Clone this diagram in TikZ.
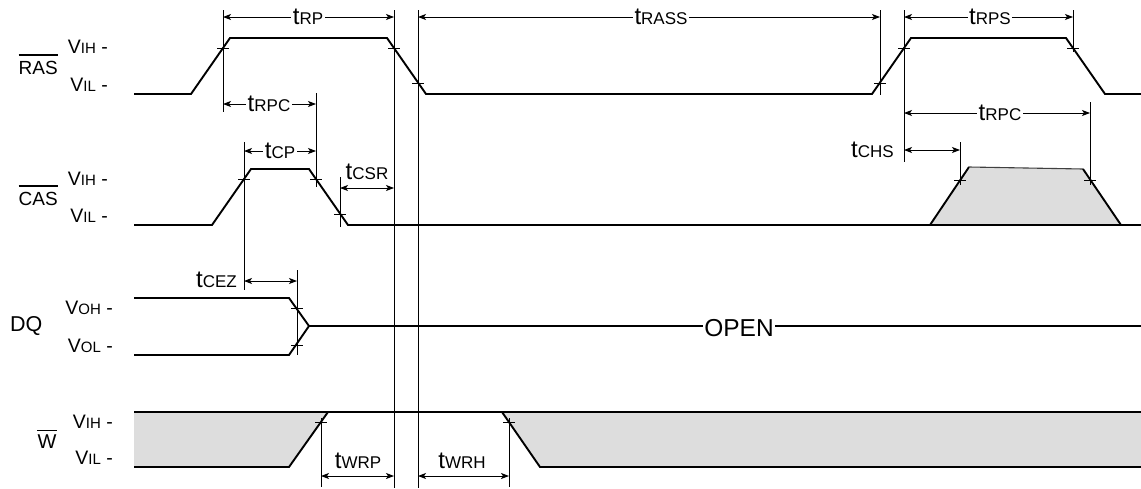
\documentclass[tikz,border=0pt]{standalone}
\usepackage{fontspec}
\setmainfont{Liberation Sans}
\usetikzlibrary{arrows.meta}
\definecolor{wgray}{HTML}{DDDDDD}
\newcommand{\tsub}[1]{{\fontsize{24}{24}\selectfont t}{\fontsize{17}{17}\selectfont #1}}
\newcommand{\vsub}[1]{{\fontsize{19.5}{19.5}\selectfont V}{\fontsize{15}{15}\selectfont #1}{\fontsize{19.5}{19.5}\selectfont\ -}}
\newcommand{\siglab}[1]{{\fontsize{19}{19}\selectfont #1}}
\tikzset{
  sig/.style={line width=1.9pt},
  guide/.style={line width=0.8pt},
  dim/.style={line width=0.8pt,{Stealth[length=8pt,width=6pt,inset=2pt]}-{Stealth[length=8pt,width=6pt,inset=2pt]}},
  tk/.style={line width=0.8pt},
  lab/.style={inner sep=1.5pt,fill=white,anchor=base},
  rlab/.style={inner sep=0pt,anchor=base east},
  ovl/.style={line width=1.6pt}
}
\begin{document}
\begin{tikzpicture}[x=1pt,y=-1pt]
\useasboundingbox (0,0) rectangle (1141,488);

% ---------- shaded regions ----------
\fill[wgray] (930,225) -- (969,167) -- (1083,169) -- (1121,225) -- cycle;
\fill[wgray] (134,412) -- (328,412) -- (289,467) -- (134,467) -- cycle;
\fill[wgray] (502,412) -- (1141,412) -- (1141,467) -- (540,467) -- cycle;

% ---------- guide lines ----------
\draw[guide] (223,10) -- (223,112);
\draw[guide] (394,10) -- (394,488);
\draw[guide] (418,10) -- (418,488);
\draw[guide] (316,93) -- (316,187);
\draw[guide] (244,142) -- (244,290);
\draw[guide] (340,177) -- (340,227);
\draw[guide] (297,270) -- (297,355);
\draw[guide] (321,418) -- (321,487);
\draw[guide] (509,418) -- (509,487);
\draw[guide] (880,10) -- (880,95);
\draw[guide] (904,10) -- (904,162);
\draw[guide] (1073,10) -- (1073,52);
\draw[guide] (1090,102) -- (1090,185);
\draw[guide] (960,142) -- (960,185);

% ---------- signals ----------
% RAS
\draw[sig] (134,94) -- (191,94) -- (230,38) -- (387,38) -- (426,94) -- (872,94) -- (911,38) -- (1066,38) -- (1105,94) -- (1141,94);
% CAS
\draw[sig] (134,225) -- (212,225) -- (251,169) -- (309,169) -- (348,225) -- (1141,225);
\draw[sig] (930,225) -- (969,167);
\draw[line width=1.1pt,black!75] (969,167) -- (1083,169);
\draw[sig] (1083,169) -- (1121,225);
% DQ
\node[inner sep=1.5pt,anchor=base] (open) at (739,336) {\fontsize{24.5}{24.5}\selectfont OPEN};
\draw[sig] (134,298) -- (289,298) -- (309,326) -- (289,355) -- (134,355);
\coordinate (dqm) at (309,326);
\coordinate (dqe) at (1141,326);
\draw[sig] (dqm) -- (dqm -| open.west);
\draw[sig] (dqe -| open.east) -- (dqe);
% W
\draw[sig] (134,412) -- (1141,412);
\draw[sig] (134,467) -- (289,467) -- (328,412);
\draw[sig] (502,412) -- (540,467) -- (1141,467);

% ---------- ticks ----------
\foreach \px/\py in {223/48, 394/48, 418/83, 880/83, 904/48, 1073/48,
                     244/179, 316/179, 340/214, 960/180, 1090/180,
                     297/308, 297/345, 321/422, 509/422}
  \draw[tk] (\px-6,\py) -- (\px+6,\py);

% ---------- dimensions ----------
\draw[dim] (223,17) -- (394,17);
\node[lab] (trp) at (308,24) {\tsub{RP}};
\draw[dim] (418,17) -- (880,17);
\node[lab] (trass) at (661,24) {\tsub{RASS}};
\draw[dim] (904,17) -- (1073,17);
\node[lab] (trps) at (990,24) {\tsub{RPS}};
\draw[dim] (223,104) -- (316,104);
\node[lab] (trpc) at (269,111) {\tsub{RPC}};
\draw[dim] (904,113) -- (1090,113);
\node[lab] (trpcb) at (1000,120) {\tsub{RPC}};
\draw[dim] (244,151) -- (316,151);
\node[lab] (tcp) at (280,158) {\tsub{CP}};
\draw[dim] (340,188) -- (394,188);
\node[lab,fill=none] (tcsr) at (367,179) {\tsub{CSR}};
\draw[dim] (904,150) -- (960,150);
\node[rlab] (tchs) at (894,157) {\tsub{CHS}};
\draw[dim] (244,281) -- (297,281);
\node[rlab] (tcez) at (237,287) {\tsub{CEZ}};
\draw[dim] (321,476) -- (394,476);
\node[lab,fill=none] (twrp) at (358,468) {\tsub{WRP}};
\draw[dim] (418,476) -- (509,476);
\node[lab,fill=none] (twrh) at (462,468) {\tsub{WRH}};

% ---------- left labels ----------
\node[rlab] (ras) at (58,74) {\siglab{RAS}};
\draw[ovl] ([yshift=5.5pt]ras.north west) -- ([yshift=5.5pt]ras.north east);
\node[rlab] (rasvih) at (108,53) {\vsub{IH}};
\node[rlab] (rasvil) at (108,91) {\vsub{IL}};

\node[rlab] (cas) at (58,205) {\siglab{CAS}};
\draw[ovl] ([yshift=5.5pt]cas.north west) -- ([yshift=5.5pt]cas.north east);
\node[rlab] (casvih) at (108,185) {\vsub{IH}};
\node[rlab] (casvil) at (108,222) {\vsub{IL}};

\node[inner sep=0pt,anchor=base west] (dq) at (10,331) {\fontsize{21.5}{21.5}\selectfont DQ};
\node[rlab] (voh) at (113,314) {\vsub{OH}};
\node[rlab] (vol) at (113,352) {\vsub{OL}};

\node[inner sep=0pt,anchor=base] (w) at (47,448) {\fontsize{20}{20}\selectfont W};
\draw[ovl] ([yshift=3.5pt]w.north west) -- ([yshift=3.5pt]w.north east);
\node[rlab] (wvih) at (113,428) {\vsub{IH}};
\node[rlab] (wvil) at (113,464) {\vsub{IL}};
\end{tikzpicture}
\end{document}
